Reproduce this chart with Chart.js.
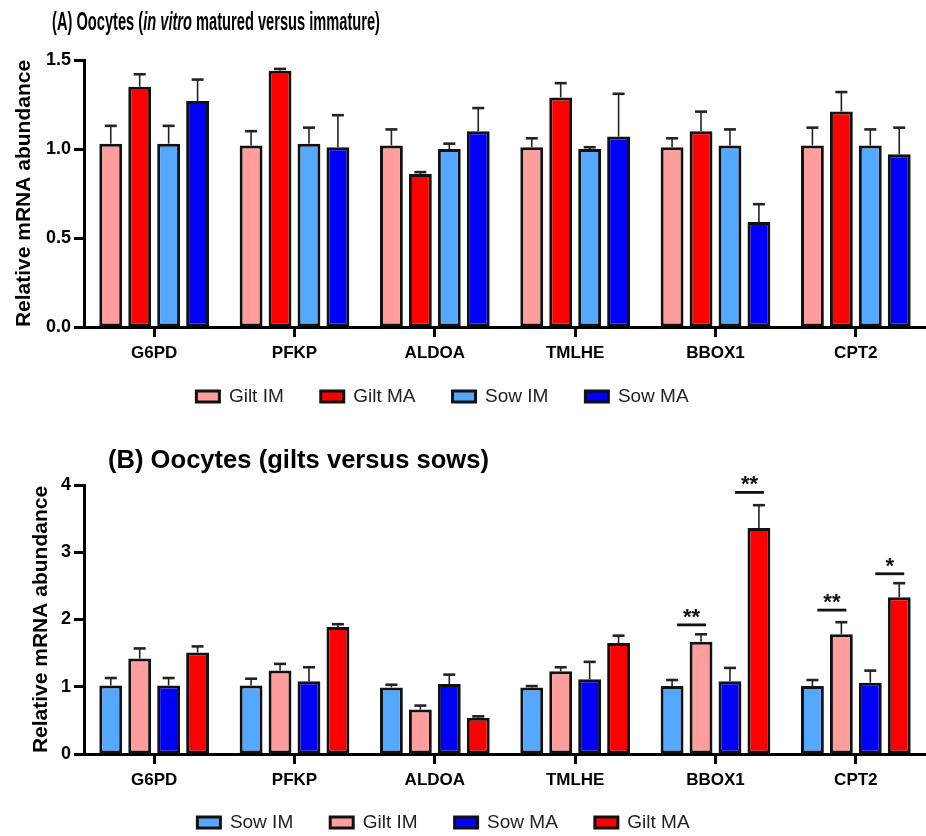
<!DOCTYPE html>
<html>
<head>
<meta charset="utf-8">
<title>Oocyte mRNA abundance</title>
<script src="https://cdn.jsdelivr.net/npm/chart.js@4.4.1/dist/chart.umd.min.js"></script>
<style>
  body { margin: 0; background: #fff; }
  #page { position: relative; width: 926px; height: 836px; overflow: hidden; }
  .box { position: absolute; left: 0; width: 926px; }
  .title {
    position: absolute; white-space: nowrap; font-family: "Liberation Sans", Arial, sans-serif;
    font-weight: bold; color: #000; transform-origin: 0 50%; line-height: 1;
  }
  #titleA { font-family: "Liberation Sans Narrow", "Arial Narrow", "Liberation Sans", Arial, sans-serif; }
</style>
</head>
<body>
<div id="page">
  <div class="box" style="top:0;height:418px"><canvas id="chartA"></canvas></div>
  <div class="box" style="top:418px;height:418px"><canvas id="chartB"></canvas></div>
  <div id="titleA" class="title" data-w="328" style="left:52px;top:9px;font-size:25px">(A) Oocytes (<i>in vitro</i> matured versus immature)</div>
  <div id="titleB" class="title" data-w="381" style="left:108px;top:447px;font-size:25px">(B) Oocytes (gilts versus sows)</div>
</div>
<script>
// genes on the x axis (both panels)
const genes = ['G6PD', 'PFKP', 'ALDOA', 'TMLHE', 'BBOX1', 'CPT2'];

// panel A: in vitro matured vs immature
const giltIM_A    = [1.03, 1.02, 1.02, 1.01, 1.01, 1.02];
const giltIM_Aerr = [0.10, 0.08, 0.09, 0.05, 0.05, 0.10];
const giltMA_A    = [1.35, 1.44, 0.86, 1.29, 1.10, 1.21];
const giltMA_Aerr = [0.07, 0.01, 0.01, 0.08, 0.11, 0.11];
const sowIM_A     = [1.03, 1.03, 1.00, 1.00, 1.02, 1.02];
const sowIM_Aerr  = [0.10, 0.09, 0.03, 0.01, 0.09, 0.09];
const sowMA_A     = [1.27, 1.01, 1.10, 1.07, 0.59, 0.97];
const sowMA_Aerr  = [0.12, 0.18, 0.13, 0.24, 0.10, 0.15];
const yTicksA = [0, 0.5, 1.0, 1.5];

// panel B: gilts vs sows
const sowIM_B     = [1.02, 1.02, 0.99, 0.99, 1.01, 1.01];
const sowIM_Berr  = [0.11, 0.10, 0.04, 0.02, 0.09, 0.09];
const giltIM_B    = [1.42, 1.24, 0.66, 1.23, 1.67, 1.78];
const giltIM_Berr = [0.15, 0.10, 0.06, 0.06, 0.11, 0.18];
const sowMA_B     = [1.02, 1.08, 1.04, 1.11, 1.08, 1.06];
const sowMA_Berr  = [0.11, 0.21, 0.14, 0.26, 0.20, 0.18];
const giltMA_B    = [1.51, 1.89, 0.54, 1.65, 3.36, 2.33];
const giltMA_Berr = [0.09, 0.04, 0.02, 0.11, 0.34, 0.21];
const yTicksB = [0, 1, 2, 3, 4];

// significance marks in B: gene index, the two datasets compared, bar height, label
const sigGene   = [4, 4, 5, 5];
const sigFrom   = [0, 2, 0, 2];
const sigTo     = [1, 3, 1, 3];
const sigLevel  = [1.92, 3.89, 2.14, 2.68];
const sigLabel  = ['**', '**', '**', '*'];

const PINK = '#FF9C9C', RED = '#FF0000', LBLUE = '#55A8FF', BLUE = '#0000FF';
const FONT = "'Liberation Sans', Arial, sans-serif";
Chart.defaults.font.family = FONT;
Chart.defaults.color = '#000';

function bars(label, data, errors, color) {
  return {
    label: label, data: data, errors: errors,
    backgroundColor: color, borderColor: '#111', borderWidth: 3, borderSkipped: false,
    categoryPercentage: 0.825, barPercentage: 0.79
  };
}

// SEM whiskers, upward only
const errorBars = {
  id: 'errorBars',
  afterDatasetsDraw(chart) {
    const ctx = chart.ctx, y = chart.scales.y;
    chart.data.datasets.forEach((ds, i) => {
      chart.getDatasetMeta(i).data.forEach((bar, j) => {
        const top = y.getPixelForValue(ds.data[j] + ds.errors[j]);
        ctx.save();
        ctx.strokeStyle = '#222';
        ctx.lineWidth = 1.6;
        ctx.beginPath(); ctx.moveTo(bar.x, bar.y); ctx.lineTo(bar.x, top); ctx.stroke();
        ctx.lineWidth = 2.6;
        ctx.beginPath(); ctx.moveTo(bar.x - 6, top); ctx.lineTo(bar.x + 6, top); ctx.stroke();
        ctx.restore();
      });
    });
  }
};

// nudge the bottom legend (left and up) like in the figure
const legendShift = {
  id: 'legendShift',
  afterLayout(chart, args, opts) {
    if (!chart.legend) return;
    chart.legend.left -= opts.dx || 0;
    chart.legend.right -= opts.dx || 0;
    chart.legend.top -= opts.dy || 0;
    chart.legend.bottom -= opts.dy || 0;
  }
};

const sigMarks = {
  id: 'sigMarks',
  afterDatasetsDraw(chart, args, opts) {
    if (!opts.on) return;
    const ctx = chart.ctx, y = chart.scales.y;
    sigGene.forEach((g, k) => {
      const x1 = chart.getDatasetMeta(sigFrom[k]).data[g].x + 5;
      const x2 = chart.getDatasetMeta(sigTo[k]).data[g].x + 5;
      const yy = y.getPixelForValue(sigLevel[k]);
      ctx.save();
      ctx.strokeStyle = '#111';
      ctx.lineWidth = 2.8;
      ctx.beginPath(); ctx.moveTo(x1, yy); ctx.lineTo(x2, yy); ctx.stroke();
      ctx.fillStyle = '#111';
      ctx.font = 'bold 22px ' + FONT;
      ctx.textAlign = 'center';
      ctx.textBaseline = 'alphabetic';
      ctx.fillText(sigLabel[k], (x1 + x2) / 2, yy - 1);
      ctx.restore();
    });
  }
};

function makeChart(id, datasets, ticks, fmt, opt) {
  return new Chart(document.getElementById(id), {
    type: 'bar',
    data: { labels: genes, datasets: datasets },
    plugins: [errorBars, legendShift, sigMarks],
    options: {
      responsive: true,
      maintainAspectRatio: false,
      animation: false,
      layout: { padding: { top: opt.top, left: 0, right: opt.right, bottom: opt.bottom } },
      plugins: {
        tooltip: { enabled: false },
        legendShift: { dx: 22, dy: opt.legendUp },
        sigMarks: { on: opt.sig },
        legend: {
          position: 'bottom',
          labels: {
            boxWidth: 23, boxHeight: 11, padding: 37, color: '#222',
            font: { size: 19 }
          }
        }
      },
      scales: {
        x: {
          grid: { drawOnChartArea: false, offset: false, tickLength: 10, tickWidth: 3, color: '#000' },
          border: { width: 3, color: '#000' },
          ticks: { font: { size: 17, weight: 'bold' }, color: '#000', padding: 6 },
          afterFit: s => { s.height = 42; }
        },
        y: {
          min: ticks[0], max: ticks[ticks.length - 1],
          afterBuildTicks: s => { s.ticks = ticks.map(v => ({ value: v })); },
          grid: { drawOnChartArea: false, tickLength: 10, tickWidth: 3, color: '#000' },
          border: { width: 3, color: '#000' },
          ticks: { font: { size: 18, weight: 'bold' }, color: '#000', padding: 3, callback: fmt },
          title: {
            display: true, text: 'Relative mRNA abundance', color: '#000',
            font: { size: 21, weight: 'bold' }, padding: { top: opt.titlePad, bottom: 0 }
          },
          afterFit: s => { s.width = opt.axisX; }
        }
      }
    }
  });
}

makeChart('chartA', [
  bars('Gilt IM', giltIM_A, giltIM_Aerr, PINK),
  bars('Gilt MA', giltMA_A, giltMA_Aerr, RED),
  bars('Sow IM', sowIM_A, sowIM_Aerr, LBLUE),
  bars('Sow MA', sowMA_A, sowMA_Aerr, BLUE)
], yTicksA, v => v.toFixed(1),
  { top: 60, right: -3, bottom: -17, axisX: 84, titlePad: 12, sig: false, legendUp: 19 });

makeChart('chartB', [
  bars('Sow IM', sowIM_B, sowIM_Berr, LBLUE),
  bars('Gilt IM', giltIM_B, giltIM_Berr, PINK),
  bars('Sow MA', sowMA_B, sowMA_Berr, BLUE),
  bars('Gilt MA', giltMA_B, giltMA_Berr, RED)
], yTicksB, v => String(v),
  { top: 67, right: -5, bottom: -26, axisX: 84, titlePad: 29, sig: true, legendUp: 20 });

// squeeze the panel titles to the width they have in the figure
document.querySelectorAll('.title').forEach(el => {
  const w = el.getBoundingClientRect().width;
  el.style.transform = 'scaleX(' + (Number(el.dataset.w) / w) + ')';
});
</script>
</body>
</html>
